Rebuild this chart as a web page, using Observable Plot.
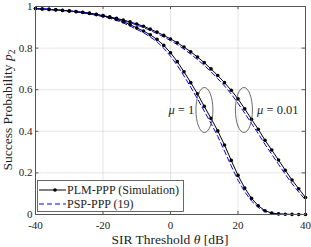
<!DOCTYPE html>
<html>
<head>
<meta charset="utf-8">
<script src="https://cdn.jsdelivr.net/npm/d3@7"></script>
<script src="https://cdn.jsdelivr.net/npm/@observablehq/plot@0.6"></script>
<style>
  html, body { margin: 0; padding: 0; background: #fff; }
  svg { display: block; }
  svg text { font-family: "Liberation Serif", "DejaVu Serif", "Times New Roman", serif; }
</style>
</head>
<body>
<div id="chart"></div>
<script>
const theta = [-40,-38,-36,-34,-32,-30,-28,-26,-24,-22,-20,-18,-16,-14,-12,-10,-8,-6,-4,-2,0,2,4,6,8,10,12,14,16,18,20,22,24,26,28,30,32,34,36,38,40];

// PLM-PPP (Simulation), mu = 0.01
const simMu001 = [0.990,0.988,0.986,0.984,0.982,0.979,0.976,0.972,0.968,0.962,0.956,0.950,0.943,0.935,0.926,0.916,0.905,0.891,0.877,0.861,0.844,0.826,0.805,0.782,0.757,0.730,0.700,0.668,0.634,0.597,0.556,0.508,0.458,0.410,0.357,0.310,0.262,0.213,0.166,0.124,0.082];
// PLM-PPP (Simulation), mu = 1
const simMu1 = [0.990,0.988,0.986,0.984,0.981,0.978,0.975,0.971,0.966,0.961,0.955,0.947,0.938,0.927,0.913,0.897,0.882,0.864,0.842,0.813,0.778,0.735,0.686,0.634,0.580,0.520,0.462,0.402,0.334,0.260,0.188,0.127,0.078,0.042,0.018,0.007,0.003,0.001,0.0005,0.0002,0.0001];
// PSP-PPP (19), mu = 0.01
const anaMu001 = [0.990,0.988,0.986,0.983,0.981,0.978,0.975,0.971,0.966,0.960,0.954,0.947,0.940,0.931,0.922,0.911,0.899,0.885,0.870,0.854,0.836,0.817,0.795,0.771,0.745,0.717,0.686,0.653,0.618,0.579,0.535,0.487,0.438,0.389,0.337,0.290,0.241,0.194,0.148,0.108,0.070];
// PSP-PPP (19), mu = 1
const anaMu1 = [0.990,0.988,0.985,0.983,0.980,0.977,0.973,0.969,0.964,0.958,0.951,0.943,0.933,0.921,0.906,0.890,0.874,0.854,0.830,0.799,0.761,0.717,0.666,0.612,0.556,0.497,0.438,0.376,0.305,0.233,0.165,0.109,0.065,0.034,0.014,0.005,0.002,0.001,0,0,0];

const xTicks = [-40,-20,0,20,40];
const yTicks = [0,0.2,0.4,0.6,0.8,1];
const xTickLabels = ["-40","-20","0","20","40"];
const yTickLabels = ["0","0.2","0.4","0.6","0.8","1"];

const seriesNames = ["PLM-PPP (Simulation)", "PSP-PPP (19)"];
const annotations = [
  {label: "1", tx: 7.2, ex: 10.2},
  {label: "0.01", tx: 25.8, ex: 21.9}
];

const toRows = (vals) => theta.map((t, i) => ({t, p: vals[i]}));
const sim001 = toRows(simMu001), sim1 = toRows(simMu1);
const ana001 = toRows(anaMu001), ana1 = toRows(anaMu1);

const blue = "#0000ff";
const axisColor = "#555";
const serif = '"Liberation Serif", "DejaVu Serif", "Times New Roman", serif';

const svg = Plot.plot({
  width: 311,
  height: 247,
  marginLeft: 35,
  marginRight: 6,
  marginTop: 6,
  marginBottom: 33,
  x: {domain: [-40, 40]},
  y: {domain: [0, 1]},
  style: `font-family: ${serif}; font-size: 11px; background: #fff; color: #222;`,
  marks: [
    Plot.gridX(xTicks, {stroke: "#000", strokeOpacity: 0.1}),
    Plot.gridY(yTicks, {stroke: "#000", strokeOpacity: 0.1}),
    Plot.ruleX(xTicks, {y1: 0, y2: 0.015, stroke: axisColor}),
    Plot.ruleX(xTicks, {y1: 0.985, y2: 1, stroke: axisColor}),
    Plot.ruleY(yTicks, {x1: -40, x2: -39, stroke: axisColor}),
    Plot.ruleY(yTicks, {x1: 39, x2: 40, stroke: axisColor}),
    Plot.axisX(xTicks, {tickSize: 0, tickPadding: 7, label: null, tickFormat: (d, i) => xTickLabels[i], fill: "#222", fontSize: 11}),
    Plot.axisY(yTicks, {tickSize: 0, tickPadding: 3, label: null, tickFormat: (d, i) => yTickLabels[i], fill: "#222", fontSize: 11}),
    Plot.line(sim001, {x: "t", y: "p", stroke: "#000", strokeWidth: 1}),
    Plot.line(sim1, {x: "t", y: "p", stroke: "#000", strokeWidth: 1}),
    Plot.line(ana001, {x: "t", y: "p", stroke: blue, strokeWidth: 1, strokeDasharray: "5,3"}),
    Plot.line(ana1, {x: "t", y: "p", stroke: blue, strokeWidth: 1, strokeDasharray: "5,3"}),
    Plot.dot(sim001, {x: "t", y: "p", r: 1.8, fill: "#000", stroke: "none"}),
    Plot.dot(sim1, {x: "t", y: "p", r: 1.8, fill: "#000", stroke: "none"}),
    Plot.frame({stroke: axisColor, strokeWidth: 1})
  ]
});

const xs = svg.scale("x"), ys = svg.scale("y");
const S = d3.select(svg);

// annotations
annotations.forEach((a, k) => {
  S.append("ellipse")
    .attr("cx", xs.apply(a.ex)).attr("cy", ys.apply(0.5))
    .attr("rx", 8.5).attr("ry", 22.5)
    .attr("fill", "none").attr("stroke", "#444").attr("stroke-width", 0.8);
  const t = S.append("text")
    .attr("x", xs.apply(a.tx)).attr("y", ys.apply(0.5) + 4)
    .attr("font-family", serif).attr("font-size", 12.5).attr("fill", "#222")
    .attr("text-anchor", k === 0 ? "end" : "start");
  t.append("tspan").attr("font-style", "italic").text("μ");
  t.append("tspan").text(" = " + a.label);
});

// axis labels
const xl = S.append("text")
  .attr("x", 170).attr("y", 244)
  .attr("text-anchor", "middle")
  .attr("font-family", serif).attr("font-size", 13.5).attr("fill", "#222");
xl.append("tspan").text("SIR Threshold ");
xl.append("tspan").attr("font-style", "italic").text("θ");
xl.append("tspan").text(" [dB]");

const yl = S.append("text")
  .attr("transform", "translate(12,110) rotate(-90)")
  .attr("text-anchor", "middle")
  .attr("font-family", serif).attr("font-size", 13.5).attr("fill", "#222");
yl.append("tspan").text("Success Probability ");
yl.append("tspan").attr("font-style", "italic").text("p");
yl.append("tspan").attr("font-size", 9.5).attr("dy", 3).text("2");

// legend
const lg = S.append("g");
lg.append("rect").attr("x", 37.5).attr("y", 180.5).attr("width", 146).attr("height", 31)
  .attr("fill", "#fff").attr("stroke", "#444").attr("stroke-width", 0.8);
lg.append("line").attr("x1", 39).attr("x2", 66).attr("y1", 190).attr("y2", 190)
  .attr("stroke", "#000").attr("stroke-width", 1);
lg.append("circle").attr("cx", 55).attr("cy", 190).attr("r", 1.8).attr("fill", "#000");
lg.append("line").attr("x1", 39).attr("x2", 66).attr("y1", 204).attr("y2", 204)
  .attr("stroke", blue).attr("stroke-width", 1).attr("stroke-dasharray", "5,3");
seriesNames.forEach((n, i) => {
  lg.append("text").attr("x", 67).attr("y", 194 + i * 14)
    .attr("text-anchor", "start")
    .attr("font-family", serif).attr("font-size", 12).attr("fill", "#222").text(n);
});

document.getElementById("chart").appendChild(svg);
</script>
</body>
</html>
